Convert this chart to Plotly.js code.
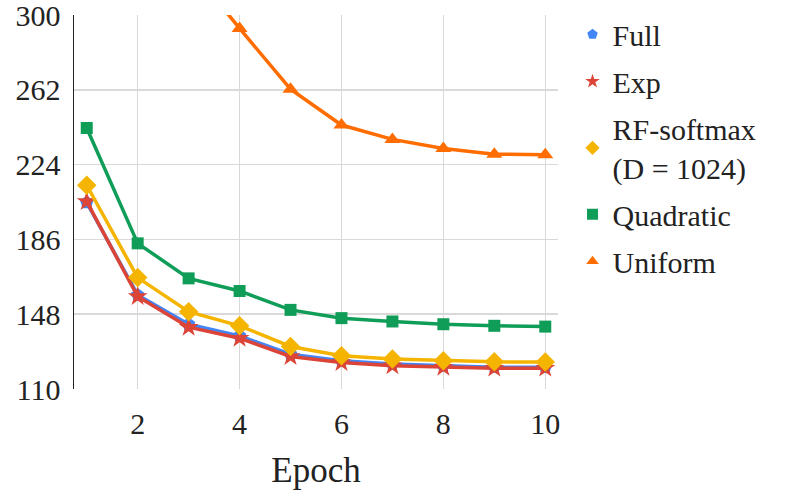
<!DOCTYPE html>
<html>
<head>
<meta charset="utf-8">
<script src="https://cdn.plot.ly/plotly-3.0.1.min.js"></script>
<style>
  html, body { margin: 0; padding: 0; background: #fff; }
  #chart { width: 789px; height: 492px; }
</style>
</head>
<body>
<div id="chart"></div>
<script>
  // epochs and per-method values
  var epochs = [1, 2, 3, 4, 5, 6, 7, 8, 9, 10];
  var fullVals = [204.7, 157.8, 142.9, 137.0, 127.7, 124.4, 122.7, 121.8, 121.1, 121.0];
  var expVals = [205.2, 157.0, 141.4, 135.8, 126.5, 123.5, 121.8, 121.1, 120.6, 120.6];
  var rfVals = [213.5, 166.6, 149.3, 142.1, 131.6, 126.9, 125.2, 124.4, 123.8, 123.7];
  var quadVals = [242.6, 184.0, 166.2, 159.8, 150.2, 146.0, 144.3, 142.9, 142.1, 141.7];
  var uniEpochs = [3, 4, 5, 6, 7, 8, 9, 10];
  var uniVals = [325, 293.2, 262.3, 244.1, 236.8, 232.2, 229.3, 229.0];
  var names = ['Full', 'Exp', 'RF-softmax<br>(D = 1024)', 'Quadratic', 'Uniform'];
  var yTicks = [110, 148, 186, 224, 262, 300];
  var xTicks = [2, 4, 6, 8, 10];

  var colors = ['#4285F4', '#DB4437', '#F4B400', '#0F9D58', '#FF6D00'];
  var symbols = ['pentagon', 'star', 'diamond', 'square', 'triangle-up'];
  var sizes = [14, 15, 15, 12, 14];

  var series = [
    [epochs, fullVals],
    [epochs, expVals],
    [epochs, rfVals],
    [epochs, quadVals],
    [uniEpochs, uniVals]
  ];

  var traces = [];
  // actual lines (no legend)
  series.forEach(function(s, i){
    traces.push({
      x: s[0], y: s[1], mode: 'lines+markers', showlegend: false,
      line: {color: colors[i], width: 3.5},
      marker: {color: colors[i], symbol: symbols[i], size: sizes[i]}
    });
  });
  // legend entries: markers only, one group each so the gap applies
  names.forEach(function(n, i){
    traces.push({
      x: [null], y: [null], mode: 'markers', name: n, legendgroup: 'g' + i,
      marker: {color: colors[i], symbol: symbols[i], size: 11}
    });
  });

  var font = 'Liberation Serif, Times New Roman, serif';

  var layout = {
    width: 789, height: 492,
    margin: {l: 74, r: 231, t: 15, b: 103, autoexpand: false},
    paper_bgcolor: '#fff', plot_bgcolor: '#fff',
    font: {family: font, color: '#222', size: 30},
    showlegend: true,
    legend: {
      x: 1.03, y: 0.983, xanchor: 'left', yanchor: 'top', yref: 'container',
      maxheight: 480,
      font: {family: font, size: 30, color: '#222'},
      itemwidth: 30, tracegroupgap: 5, traceorder: 'grouped'
    },
    xaxis: {
      range: [0.75, 10.25], tickvals: xTicks, ticktext: xTicks.map(String),
      showgrid: true, gridcolor: '#d9d9d9', gridwidth: 1.5,
      zeroline: false, showline: false, ticks: '',
      ticklabelstandoff: 14,
      tickfont: {family: font, size: 30, color: '#222'},
      title: {text: 'Epoch', font: {family: font, size: 35, color: '#222'}, standoff: 18}
    },
    yaxis: {
      range: [110, 300], tickvals: yTicks, ticktext: yTicks.map(String),
      showgrid: true, gridcolor: '#d9d9d9', gridwidth: 1.5,
      zeroline: false, showline: true, linecolor: '#222', linewidth: 1.5,
      ticks: '', ticklabelstandoff: 6, ticklabeloverflow: 'allow',
      tickfont: {family: font, size: 30, color: '#222'}
    }
  };

  Plotly.newPlot('chart', traces, layout, {displayModeBar: false, staticPlot: true});
</script>
</body>
</html>
